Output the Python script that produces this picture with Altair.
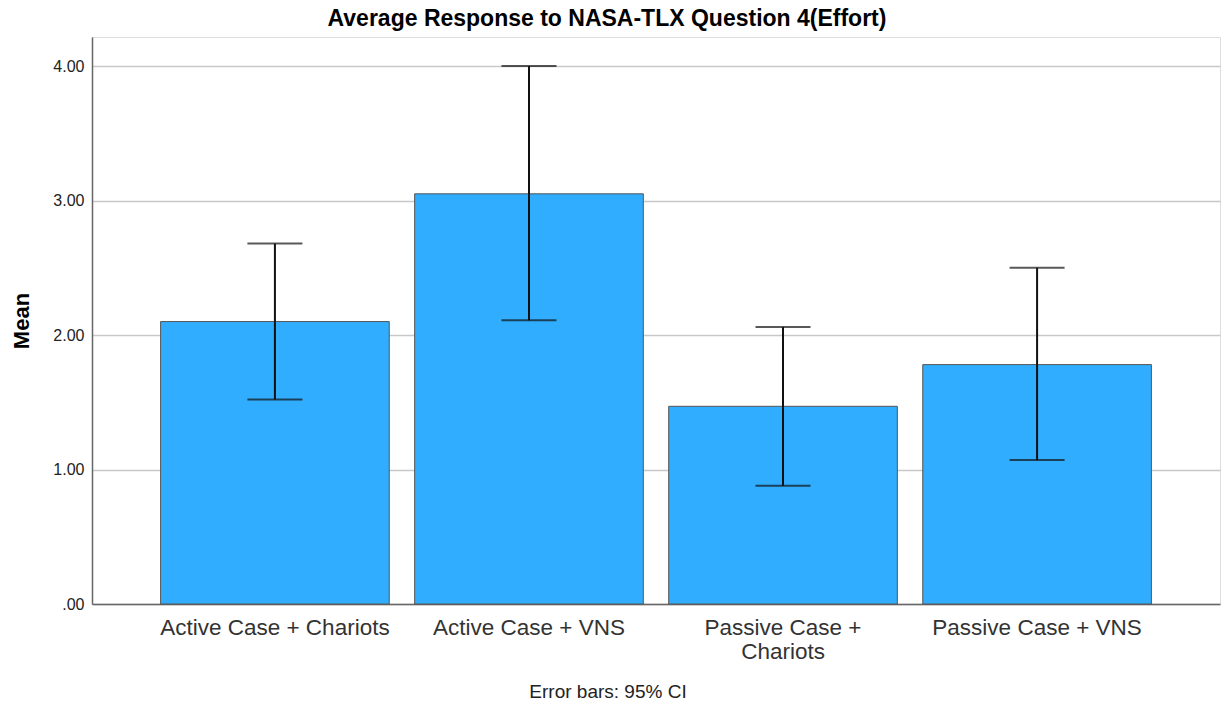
import altair as alt
import pandas as pd

# Mean NASA-TLX effort rating per condition, with 95% confidence limits
conditions = ["Active Case + Chariots", "Active Case + VNS",
              "Passive Case + Chariots", "Passive Case + VNS"]
means = [2.10, 3.05, 1.47, 1.78]
ci_low = [1.52, 2.11, 0.88, 1.07]
ci_high = [2.68, 4.00, 2.06, 2.50]
y_ticks = [0, 1, 2, 3, 4]

df = pd.DataFrame({"condition": conditions, "mean": means,
                   "low": ci_low, "high": ci_high})

FONT = "Liberation Sans"
W, H = 1128, 567

x_enc = alt.X(
    "condition:N", sort=conditions, title=None,
    scale=alt.Scale(paddingInner=0.1, paddingOuter=0.27),
    axis=alt.Axis(
        labelAngle=0, labelFontSize=22.5, labelColor="#333333", labelFont=FONT,
        labelPadding=12, labelLineHeight=24, labelBaseline="top", labelLimit=0,
        labelExpr="datum.label == 'Passive Case + Chariots' ? ['Passive Case +', 'Chariots'] : datum.label",
        ticks=False, domainColor="#666666", domainWidth=1.5, grid=False,
    ),
)
y_scale = alt.Scale(domain=[0, 4.216], nice=False)

bars = alt.Chart(df).mark_bar(
    color="#30adfe", stroke="#555555", strokeWidth=1
).encode(
    x=x_enc,
    y=alt.Y("mean:Q", scale=y_scale, title="Mean",
            axis=alt.Axis(
                values=y_ticks, labelExpr="datum.value == 0 ? '.00' : format(datum.value, '.2f')",
                labelFontSize=16, labelFont=FONT, labelColor="#222222", labelPadding=8,
                ticks=False, grid=True, gridColor="#c8c8c8", gridWidth=1.5,
                domainColor="#666666", domainWidth=1.5,
                titleFontSize=22, titleFont=FONT, titleFontWeight="bold",
                titleColor="#000000", titlePadding=19,
            )),
)

whiskers = alt.Chart(df).mark_rule(color="#111111", strokeWidth=2).encode(
    x=alt.X("condition:N", sort=conditions),
    y=alt.Y("low:Q", scale=y_scale),
    y2="high:Q",
)
caps_low = alt.Chart(df).mark_tick(color="#111111", thickness=2, size=55).encode(
    x=alt.X("condition:N", sort=conditions),
    y=alt.Y("low:Q", scale=y_scale),
)
caps_high = alt.Chart(df).mark_tick(color="#111111", thickness=2, size=55).encode(
    x=alt.X("condition:N", sort=conditions),
    y=alt.Y("high:Q", scale=y_scale),
)

title = alt.Chart(pd.DataFrame({"t": ["Average Response to NASA-TLX Question 4(Effort)"]})).mark_text(
    font=FONT, fontSize=23, fontWeight="bold", color="#000000", align="center", baseline="middle"
).encode(x=alt.value(515), y=alt.value(-18), text="t:N")

footnote = alt.Chart(pd.DataFrame({"t": ["Error bars: 95% CI"]})).mark_text(
    font=FONT, fontSize=19, color="#222222", align="center", baseline="middle"
).encode(x=alt.value(516), y=alt.value(655), text="t:N")

chart = alt.layer(bars, whiskers, caps_low, caps_high, title, footnote).properties(
    width=W, height=H,
    autosize=alt.AutoSizeParams(type="none"),
    padding={"left": 92, "top": 37, "right": 1, "bottom": 103},
).configure_view(stroke=None).configure(background="white")

chart.save("out.html", embed_options={"renderer": "svg", "actions": False})
